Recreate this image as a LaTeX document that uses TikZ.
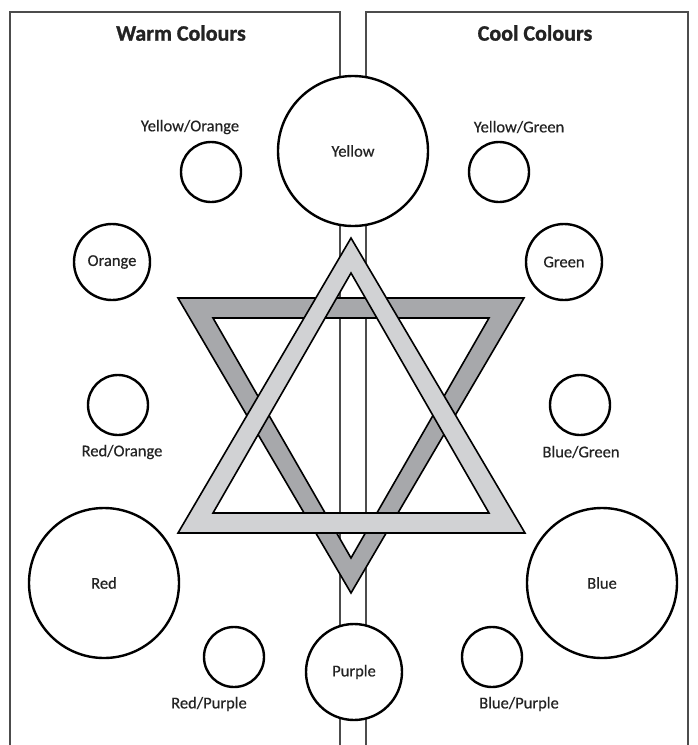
\documentclass[tikz,border=0pt]{standalone}
\usepackage{fontspec}
\setmainfont{Carlito}
\newfontfamily\lblfont[FakeBold=0.4]{Carlito}
\newfontfamily\ttlfont[FakeBold=1.2]{Carlito Bold}
\definecolor{darkband}{RGB}{167,168,171}
\definecolor{lightband}{RGB}{209,210,212}
\definecolor{ink}{RGB}{35,35,35}
\begin{document}
\begin{tikzpicture}[x=1pt,y=-1pt,
  panel/.style={draw=black!70,line width=1.1pt},
  swatch/.style={circle,draw=black,line width=2.4pt,fill=white,inner sep=0pt},
  lbl/.style={font=\lblfont\fontsize{16.5}{18}\selectfont,text=ink,inner sep=0pt},
  ttl/.style={font=\ttlfont\fontsize{22}{24}\selectfont,text=ink,inner sep=0pt},
  band/.style={draw=black,line width=1.6pt,even odd rule}]
\useasboundingbox (0,0) rectangle (697,745);
\fill[white] (0,0) rectangle (697,745);
% panels
\draw[panel] (10,746) -- (10,12) -- (340,12) -- (340,746);
\draw[panel] (366,746) -- (366,12) -- (688,12) -- (688,746);
\node[ttl] (warm) at (181,33) {Warm Colours};
\node[ttl] (cool) at (535,33) {Cool Colours};
% star: dark (downward) triangle under light (upward) triangle
\filldraw[band,fill=darkband]
  (178,298) -- (524,298) -- (351,593) -- cycle
  (213,318) -- (489,318) -- (351,558) -- cycle;
\filldraw[band,fill=lightband]
  (351,238) -- (525,533) -- (178,533) -- cycle
  (351,273) -- (489,513) -- (213,513) -- cycle;
% swatches
\node[swatch,minimum size=150pt] (yellow) at (353,151) {};
\node[lbl] (yellowt) at (353,151) {Yellow};
\node[swatch,minimum size=60pt] (yo) at (211,172) {};
\node[lbl] (yot) at (190,127) {Yellow/Orange};
\node[swatch,minimum size=60pt] (yg) at (499,172) {};
\node[lbl] (ygt) at (519,127) {Yellow/Green};
\node[swatch,minimum size=76pt] (orange) at (112,262) {};
\node[lbl] (oranget) at (112,262) {Orange};
\node[swatch,minimum size=76pt] (green) at (564,262) {};
\node[lbl] (greent) at (564,262) {Green};
\node[swatch,minimum size=60pt] (ro) at (118,405) {};
\node[lbl] (rot) at (122,452) {Red/Orange};
\node[swatch,minimum size=60pt] (bg) at (580,405) {};
\node[lbl] (bgt) at (581,452) {Blue/Green};
\node[swatch,minimum size=150pt] (red) at (104,583) {};
\node[lbl] (redt) at (104,583) {Red};
\node[swatch,minimum size=150pt] (blue) at (602,583) {};
\node[lbl] (bluet) at (602,583) {Blue};
\node[swatch,minimum size=60pt] (rp) at (234,657) {};
\node[lbl] (rpt) at (209,704) {Red/Purple};
\node[swatch,minimum size=60pt] (bp) at (492,657) {};
\node[lbl] (bpt) at (519,704) {Blue/Purple};
\node[swatch,minimum size=96pt] (purple) at (354,672) {};
\node[lbl] (purplet) at (354,672) {Purple};
\end{tikzpicture}
\end{document}
